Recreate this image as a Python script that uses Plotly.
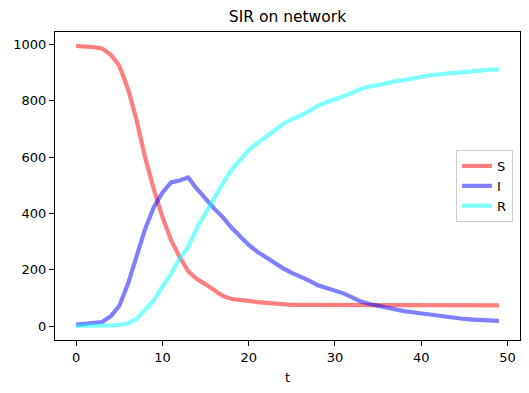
import plotly.graph_objects as go

t = list(range(50))
S = [995, 994, 991, 986, 965, 925, 843, 732, 599, 486,
     388, 305, 245, 194, 167, 148, 128, 107, 96, 91,
     89, 85, 82, 79, 76, 75, 75, 75, 75, 74,
     74, 74, 74, 74, 74, 74, 74, 74, 73, 73,
     73, 73, 73, 73, 73, 73, 73, 73, 73, 73]
I = [5, 7, 9, 14, 34, 71, 149, 243, 345, 422,
     474, 510, 517, 528, 487, 453, 417, 387, 350, 319,
     288, 264, 244, 222, 205, 189, 177, 161, 145, 135,
     125, 116, 102, 87, 78, 72, 64, 57, 53, 49,
     45, 40, 35, 32, 28, 25, 23, 21, 20, 18]
R = [0, 0, 0, 1, 2, 4, 9, 25, 56, 92,
     140, 185, 240, 282, 348, 400, 458, 507, 554, 592,
     625, 650, 673, 696, 718, 735, 747, 764, 782, 794,
     805, 814, 828, 842, 851, 856, 864, 870, 874, 880,
     887, 891, 894, 897, 901, 904, 906, 909, 911, 912]

series = [("S", S, "rgba(255,0,0,0.5)"),
          ("I", I, "rgba(0,0,255,0.5)"),
          ("R", R, "rgba(0,255,255,0.5)")]

fig = go.Figure()
for name, vals, col in series:
    fig.add_trace(go.Scatter(x=t, y=vals, mode="lines", name=name,
                             line=dict(color=col, width=4.2)))

font = "DejaVu Sans, Arial, sans-serif"
axis_common = dict(showline=True, linecolor="black", linewidth=1, mirror=True,
                   ticks="outside", ticklen=5, tickwidth=1, tickcolor="black",
                   showgrid=False, zeroline=False, automargin=False,
                   tickfont=dict(family=font, size=13, color="black"))

fig.update_layout(
    template="none",
    width=529, height=393,
    margin=dict(l=55, r=9, t=32, b=53, autoexpand=False),
    paper_bgcolor="white", plot_bgcolor="white",
    title=dict(text="SIR on network", x=0.5, xref="paper", xanchor="center",
               y=1 - 17/393, yref="container", yanchor="middle",
               font=dict(family=font, size=15.5, color="black")),
    xaxis=dict(range=[-2.45, 51.45], tickvals=[0, 10, 20, 30, 40, 50],
               title=dict(text="t", font=dict(family=font, size=13, color="black"), standoff=9),
               **axis_common),
    yaxis=dict(range=[-49.75, 1044.75], tickvals=[0, 200, 400, 600, 800, 1000],
               **axis_common),
    legend=dict(x=0.985, xanchor="right", y=0.5, yanchor="middle",
                bgcolor="rgba(255,255,255,0.8)", bordercolor="#cccccc", borderwidth=1,
                font=dict(family=font, size=13, color="black"),
                tracegroupgap=0),
    showlegend=True,
)

fig.write_html("out.html",
               config={"displayModeBar": False},
               post_script="document.body.style.margin='0px';document.body.style.overflow='hidden';")
